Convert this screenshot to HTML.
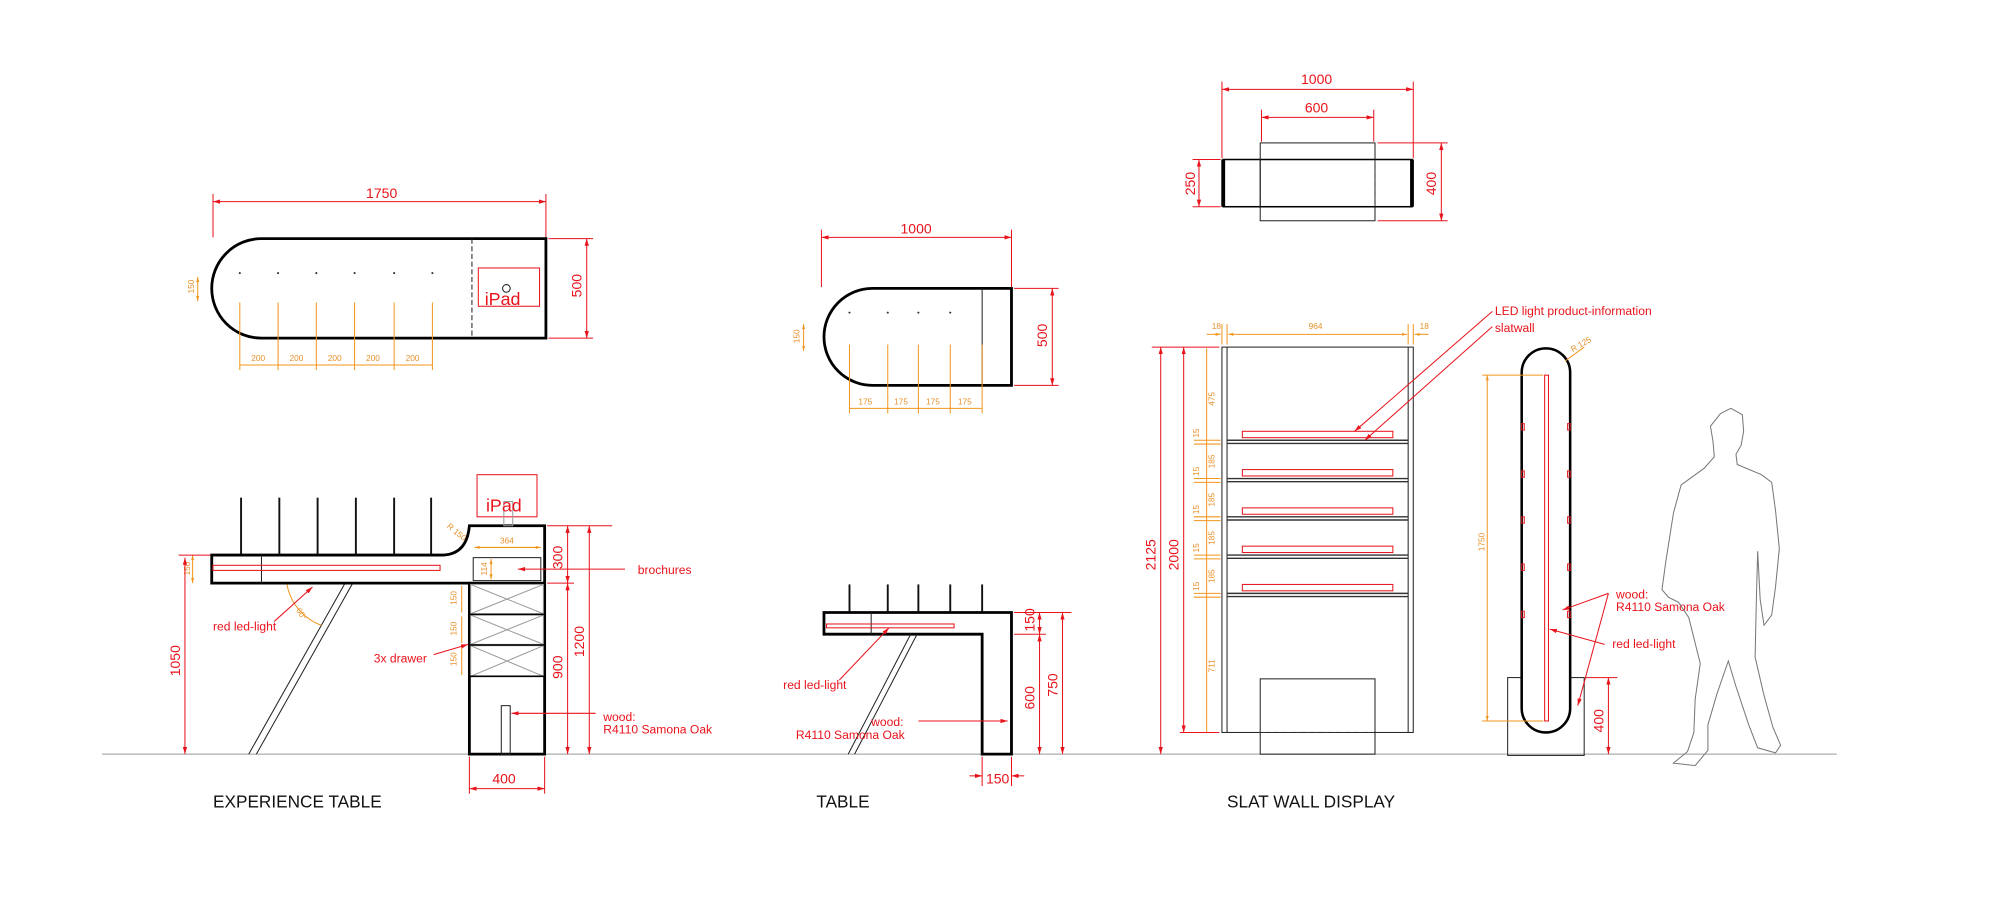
<!DOCTYPE html>
<html><head><meta charset="utf-8"><style>
html,body{margin:0;padding:0;background:#fff;}
svg{display:block;}
text{font-family:"Liberation Sans",Arial,sans-serif;}
.k{stroke:#000;fill:none;stroke-width:2.2}
.t{stroke:#222;fill:none;stroke-width:0.8}
.r{stroke:#e8131b;fill:none;stroke-width:0.8}
.o{stroke:#f0961e;fill:none;stroke-width:0.8}
.rt{fill:#e8131b;font-size:11px}
.ot{fill:#e8902a;font-size:6.5px}
.lt{fill:#e8131b;font-size:9.5px}
.ti{fill:#111;font-size:13.5px}
</style></head><body>
<svg width="2000" height="906" viewBox="0 0 1568 710" preserveAspectRatio="none" xmlns="http://www.w3.org/2000/svg">
<defs>
<marker id="ar" viewBox="0 0 10 10" refX="10" refY="5" markerWidth="7" markerHeight="7" orient="auto-start-reverse"><path d="M0,2 L10,5 L0,8z" fill="#e8131b"/></marker>
<marker id="ao" viewBox="0 0 10 10" refX="10" refY="5" markerWidth="5" markerHeight="5" orient="auto-start-reverse"><path d="M0,2 L10,5 L0,8z" fill="#f0961e"/></marker>
</defs>

<!-- ground -->
<line x1="80" y1="591" x2="1440" y2="591" stroke="#999" stroke-width="0.8"/>

<!-- ===== EXPERIENCE TABLE TOP ===== -->
<line class="r" x1="167" y1="152" x2="167" y2="186"/><line class="r" x1="428" y1="152" x2="428" y2="186"/>
<line class="r" x1="167" y1="158" x2="428" y2="158" marker-start="url(#ar)" marker-end="url(#ar)"/>
<text class="rt" x="287" y="155">1750</text>
<path class="k" d="M205,187 L428,187 L428,265 L205,265 A39,39 0 0 1 205,187 Z"/>
<line class="t" x1="370" y1="187" x2="370" y2="265" stroke-dasharray="4,2"/>
<rect x="375" y="210" width="48" height="30" class="r"/>
<circle cx="397" cy="226" r="3" class="t"/>
<text x="380" y="239" fill="#e8131b" font-size="14">iPad</text>
<line class="r" x1="430" y1="187" x2="465" y2="187"/><line class="r" x1="430" y1="265" x2="465" y2="265"/>
<line class="r" x1="460" y1="187" x2="460" y2="265" marker-start="url(#ar)" marker-end="url(#ar)"/>
<text class="rt" transform="translate(456,233) rotate(-90)">500</text>
<line class="o" x1="155" y1="217" x2="155" y2="236" marker-start="url(#ao)" marker-end="url(#ao)"/>
<text class="ot" transform="translate(152,230) rotate(-90)">150</text>
<g fill="#333">
<circle cx="188" cy="214" r="0.8"/><circle cx="218" cy="214" r="0.8"/><circle cx="248" cy="214" r="0.8"/><circle cx="278" cy="214" r="0.8"/><circle cx="309" cy="214" r="0.8"/><circle cx="339" cy="214" r="0.8"/>
</g>
<g class="o">
<line x1="188" y1="237" x2="188" y2="290"/><line x1="218" y1="237" x2="218" y2="290"/><line x1="248" y1="237" x2="248" y2="290"/><line x1="278" y1="237" x2="278" y2="290"/><line x1="309" y1="237" x2="309" y2="290"/><line x1="339" y1="237" x2="339" y2="290"/>
<line x1="188" y1="286" x2="339" y2="286"/>
</g>
<g class="ot"><text x="197" y="283">200</text><text x="227" y="283">200</text><text x="257" y="283">200</text><text x="287" y="283">200</text><text x="318" y="283">200</text></g>

<!-- ===== EXPERIENCE TABLE SIDE ===== -->
<g stroke="#111" stroke-width="1.5">
<line x1="189" y1="390" x2="189" y2="435"/><line x1="219" y1="390" x2="219" y2="435"/><line x1="249" y1="390" x2="249" y2="435"/><line x1="279" y1="390" x2="279" y2="435"/><line x1="309" y1="390" x2="309" y2="435"/><line x1="338" y1="390" x2="338" y2="435"/>
</g>
<path class="k" d="M166,435 L346,435 Q366,435 368,412 L427,412 L427,591 L368,591 L368,457 L166,457 Z"/>
<line class="k" x1="368" y1="457" x2="427" y2="457" stroke-width="1.6"/>
<line class="t" x1="205" y1="435" x2="205" y2="457"/>
<rect class="r" x="167" y="443" width="178" height="4"/>
<rect class="t" x="371" y="437" width="53" height="18"/>
<g stroke="#999" stroke-width="0.8" fill="none">
<rect x="369" y="458" width="57" height="23"/><line x1="369" y1="458" x2="426" y2="481"/><line x1="426" y1="458" x2="369" y2="481"/>
<rect x="369" y="482" width="57" height="23"/><line x1="369" y1="482" x2="426" y2="505"/><line x1="426" y1="482" x2="369" y2="505"/>
<rect x="369" y="506" width="57" height="24"/><line x1="369" y1="506" x2="426" y2="530"/><line x1="426" y1="506" x2="369" y2="530"/>
</g>
<line x1="368" y1="481.5" x2="427" y2="481.5" stroke="#000" stroke-width="1.2"/>
<line x1="368" y1="505.5" x2="427" y2="505.5" stroke="#000" stroke-width="1.2"/>
<line x1="368" y1="530" x2="427" y2="530" stroke="#000" stroke-width="1.2"/>
<rect class="t" x="393" y="553" width="7" height="38"/>
<line class="t" x1="270" y1="458" x2="195" y2="591"/><line class="t" x1="276" y1="458" x2="201" y2="591"/>
<rect class="r" x="374" y="372" width="47" height="33"/>
<rect x="395" y="393" width="7" height="19" stroke="#999" fill="none" stroke-width="0.8"/>
<text x="381" y="401" fill="#e8131b" font-size="14">iPad</text>
<text class="ot" transform="translate(350,413) rotate(40)">R 150</text>
<line class="o" x1="372" y1="429" x2="424" y2="429" marker-start="url(#ao)" marker-end="url(#ao)"/>
<text class="ot" x="392" y="426">364</text>
<line class="o" x1="385" y1="438" x2="385" y2="454" marker-start="url(#ao)" marker-end="url(#ao)"/>
<text class="ot" transform="translate(382,451) rotate(-90)">114</text>
<line class="o" x1="362" y1="459" x2="362" y2="480"/><text class="ot" transform="translate(358,474) rotate(-90)">150</text>
<line class="o" x1="362" y1="483" x2="362" y2="504"/><text class="ot" transform="translate(358,498) rotate(-90)">150</text>
<line class="o" x1="362" y1="507" x2="362" y2="529"/><text class="ot" transform="translate(358,522) rotate(-90)">150</text>
<line class="o" x1="151" y1="435" x2="151" y2="457" marker-start="url(#ao)" marker-end="url(#ao)"/>
<text class="ot" transform="translate(149,451) rotate(-90)">150</text>
<line class="r" x1="140" y1="435" x2="165" y2="435"/>
<line class="r" x1="145" y1="437" x2="145" y2="591" marker-start="url(#ar)" marker-end="url(#ar)"/>
<text class="rt" transform="translate(141,530) rotate(-90)">1050</text>
<path class="o" d="M225,458 A42,42 0 0 0 252,490"/><text class="ot" transform="translate(232,478) rotate(60)">60°</text>
<g class="r">
<line x1="429" y1="412" x2="480" y2="412"/><line x1="429" y1="457" x2="450" y2="457"/>
<line x1="445" y1="412" x2="445" y2="457" marker-start="url(#ar)" marker-end="url(#ar)"/>
<line x1="445" y1="457" x2="445" y2="591" marker-start="url(#ar)" marker-end="url(#ar)"/>
<line x1="462" y1="412" x2="462" y2="591" marker-start="url(#ar)" marker-end="url(#ar)"/>
<line x1="368" y1="593" x2="368" y2="622"/><line x1="427" y1="593" x2="427" y2="622"/>
<line x1="368" y1="618" x2="427" y2="618" marker-start="url(#ar)" marker-end="url(#ar)"/>
</g>
<text class="rt" transform="translate(441,446) rotate(-90)">300</text>
<text class="rt" transform="translate(441,532) rotate(-90)">900</text>
<text class="rt" transform="translate(458,515) rotate(-90)">1200</text>
<text class="rt" x="386" y="614">400</text>
<line class="r" x1="490" y1="446" x2="406" y2="446" marker-end="url(#ar)"/>
<text class="lt" x="500" y="450">brochures</text>
<line class="r" x1="215" y1="487" x2="245" y2="460" marker-end="url(#ar)"/>
<text class="lt" x="167" y="494">red led-light</text>
<line class="r" x1="340" y1="513" x2="367" y2="505" marker-end="url(#ar)"/>
<text class="lt" x="293" y="519">3x drawer</text>
<line class="r" x1="467" y1="559" x2="401" y2="559" marker-end="url(#ar)"/>
<text class="lt" x="473" y="565">wood:</text>
<text class="lt" x="473" y="575">R4110 Samona Oak</text>
<text class="ti" x="167" y="633">EXPERIENCE TABLE</text>

<!-- ===== TABLE TOP ===== -->
<line class="r" x1="644" y1="180" x2="644" y2="225"/><line class="r" x1="793" y1="180" x2="793" y2="225"/>
<line class="r" x1="644" y1="186" x2="793" y2="186" marker-start="url(#ar)" marker-end="url(#ar)"/>
<text class="rt" x="706" y="183">1000</text>
<path class="k" d="M684,226 L793,226 L793,302 L684,302 A38,38 0 0 1 684,226 Z"/>
<line class="t" x1="770" y1="226" x2="770" y2="302"/>
<g fill="#333"><circle cx="666" cy="245" r="0.8"/><circle cx="696" cy="245" r="0.8"/><circle cx="720" cy="245" r="0.8"/><circle cx="745" cy="245" r="0.8"/></g>
<g class="o"><line x1="666" y1="270" x2="666" y2="324"/><line x1="696" y1="270" x2="696" y2="324"/><line x1="720" y1="270" x2="720" y2="324"/><line x1="745" y1="270" x2="745" y2="324"/><line x1="770" y1="270" x2="770" y2="324"/><line x1="666" y1="320" x2="770" y2="320"/></g>
<g class="ot"><text x="673" y="317">175</text><text x="701" y="317">175</text><text x="726" y="317">175</text><text x="751" y="317">175</text></g>
<line class="o" x1="630" y1="254" x2="630" y2="275" marker-start="url(#ao)" marker-end="url(#ao)"/>
<text class="ot" transform="translate(627,269) rotate(-90)">150</text>
<line class="r" x1="795" y1="226" x2="830" y2="226"/><line class="r" x1="795" y1="302" x2="830" y2="302"/>
<line class="r" x1="825" y1="226" x2="825" y2="302" marker-start="url(#ar)" marker-end="url(#ar)"/>
<text class="rt" transform="translate(821,272) rotate(-90)">500</text>

<!-- ===== TABLE SIDE ===== -->
<g stroke="#111" stroke-width="1.5"><line x1="666" y1="458" x2="666" y2="480"/><line x1="696" y1="458" x2="696" y2="480"/><line x1="720" y1="458" x2="720" y2="480"/><line x1="745" y1="458" x2="745" y2="480"/><line x1="770" y1="458" x2="770" y2="480"/></g>
<path class="k" d="M646,480 L793,480 L793,591 L770,591 L770,497 L646,497 Z"/>
<line class="t" x1="683" y1="480" x2="683" y2="497"/>
<rect class="r" x="648" y="489" width="100" height="3"/>
<line class="t" x1="714" y1="497" x2="665" y2="591"/><line class="t" x1="719" y1="497" x2="670" y2="591"/>
<g class="r">
<line x1="795" y1="480" x2="840" y2="480"/><line x1="795" y1="497" x2="820" y2="497"/>
<line x1="815" y1="480" x2="815" y2="497" marker-start="url(#ar)" marker-end="url(#ar)"/>
<line x1="815" y1="497" x2="815" y2="591" marker-start="url(#ar)" marker-end="url(#ar)"/>
<line x1="833" y1="480" x2="833" y2="591" marker-start="url(#ar)" marker-end="url(#ar)"/>
<line x1="770" y1="593" x2="770" y2="616"/><line x1="793" y1="593" x2="793" y2="616"/>
<line x1="760" y1="608" x2="770" y2="608" marker-end="url(#ar)"/><line x1="803" y1="608" x2="793" y2="608" marker-end="url(#ar)"/>
</g>
<text class="rt" transform="translate(811,495) rotate(-90)">150</text>
<text class="rt" transform="translate(811,556) rotate(-90)">600</text>
<text class="rt" transform="translate(829,546) rotate(-90)">750</text>
<text class="rt" x="773" y="614">150</text>
<line class="r" x1="658" y1="533" x2="697" y2="492" marker-end="url(#ar)"/>
<text class="lt" x="614" y="540">red led-light</text>
<line class="r" x1="720" y1="565" x2="790" y2="565" marker-end="url(#ar)" transform="translate(0,0)"/>
<text class="lt" x="683" y="569">wood:</text>
<text class="lt" x="624" y="579">R4110 Samona Oak</text>
<text class="ti" x="640" y="633">TABLE</text>

<!-- ===== SLAT WALL TOP ===== -->
<g class="r">
<line x1="958" y1="64" x2="958" y2="124"/><line x1="1108" y1="64" x2="1108" y2="124"/>
<line x1="958" y1="70" x2="1108" y2="70" marker-start="url(#ar)" marker-end="url(#ar)"/>
<line x1="989" y1="86" x2="989" y2="111"/><line x1="1077" y1="86" x2="1077" y2="111"/>
<line x1="989" y1="92" x2="1077" y2="92" marker-start="url(#ar)" marker-end="url(#ar)"/>
<line x1="935" y1="125" x2="957" y2="125"/><line x1="935" y1="162" x2="957" y2="162"/>
<line x1="940" y1="125" x2="940" y2="162" marker-start="url(#ar)" marker-end="url(#ar)"/>
<line x1="1080" y1="112" x2="1135" y2="112"/><line x1="1080" y1="173" x2="1135" y2="173"/>
<line x1="1130" y1="112" x2="1130" y2="173" marker-start="url(#ar)" marker-end="url(#ar)"/>
</g>
<text class="rt" x="1020" y="66">1000</text>
<text class="rt" x="1023" y="88">600</text>
<text class="rt" transform="translate(937,153) rotate(-90)">250</text>
<text class="rt" transform="translate(1126,153) rotate(-90)">400</text>
<rect class="t" x="988" y="112" width="90" height="61"/>
<rect x="959" y="125" width="148" height="37" fill="none" stroke="#000" stroke-width="1.2"/>
<line x1="959" y1="125" x2="959" y2="162" stroke="#000" stroke-width="3"/>
<line x1="1107" y1="125" x2="1107" y2="162" stroke="#000" stroke-width="3"/>
<line class="t" x1="988" y1="125" x2="988" y2="162" stroke="#fff" stroke-width="1"/>
<line x1="988" y1="125" x2="988" y2="162" stroke="#333" stroke-width="0.8" stroke-dasharray="4,3"/>
<line x1="1078" y1="125" x2="1078" y2="162" stroke="#333" stroke-width="0.8" stroke-dasharray="4,3"/>

<!-- ===== SLAT WALL FRONT ===== -->
<rect class="t" x="958" y="272" width="150" height="302" stroke-width="1.1"/>
<line class="t" x1="962" y1="272" x2="962" y2="574"/><line class="t" x1="1104" y1="272" x2="1104" y2="574"/>
<g stroke="#333" stroke-width="1.1">
<line x1="962" y1="345" x2="1104" y2="345"/><line x1="962" y1="347.5" x2="1104" y2="347.5"/>
<line x1="962" y1="375" x2="1104" y2="375"/><line x1="962" y1="377.5" x2="1104" y2="377.5"/>
<line x1="962" y1="405" x2="1104" y2="405"/><line x1="962" y1="407.5" x2="1104" y2="407.5"/>
<line x1="962" y1="435" x2="1104" y2="435"/><line x1="962" y1="437.5" x2="1104" y2="437.5"/>
<line x1="962" y1="465" x2="1104" y2="465"/><line x1="962" y1="467.5" x2="1104" y2="467.5"/>
</g>
<g class="r"><rect x="974" y="338" width="118" height="5"/><rect x="974" y="368" width="118" height="5"/><rect x="974" y="398" width="118" height="5"/><rect x="974" y="428" width="118" height="5"/><rect x="974" y="458" width="118" height="5"/></g>
<rect class="t" x="988" y="532" width="90" height="59"/>
<line x1="988" y1="574" x2="1078" y2="574" stroke="#333" stroke-width="0.8" stroke-dasharray="4,3"/>
<g class="o">
<line x1="958" y1="254" x2="958" y2="270"/><line x1="962" y1="254" x2="962" y2="270"/><line x1="1104" y1="254" x2="1104" y2="270"/><line x1="1108" y1="254" x2="1108" y2="270"/>
<line x1="963" y1="262" x2="1103" y2="262" marker-start="url(#ao)" marker-end="url(#ao)"/>
<line x1="946" y1="262" x2="957" y2="262" marker-end="url(#ao)"/><line x1="1120" y1="262" x2="1109" y2="262" marker-end="url(#ao)"/>
<line x1="946" y1="273" x2="946" y2="574"/>
<line x1="936" y1="345" x2="957" y2="345"/><line x1="936" y1="348" x2="957" y2="348"/>
<line x1="936" y1="375" x2="957" y2="375"/><line x1="936" y1="378" x2="957" y2="378"/>
<line x1="936" y1="405" x2="957" y2="405"/><line x1="936" y1="408" x2="957" y2="408"/>
<line x1="936" y1="435" x2="957" y2="435"/><line x1="936" y1="438" x2="957" y2="438"/>
<line x1="936" y1="465" x2="957" y2="465"/><line x1="936" y1="468" x2="957" y2="468"/>
</g>
<g class="ot">
<text x="950" y="258">18</text><text x="1026" y="258">964</text><text x="1113" y="258">18</text>
<text transform="translate(952,318) rotate(-90)">475</text>
<text transform="translate(952,367) rotate(-90)">185</text><text transform="translate(952,397) rotate(-90)">185</text>
<text transform="translate(952,427) rotate(-90)">185</text><text transform="translate(952,457) rotate(-90)">185</text>
<text transform="translate(940,343) rotate(-90)">15</text><text transform="translate(940,373) rotate(-90)">15</text>
<text transform="translate(940,403) rotate(-90)">15</text><text transform="translate(940,433) rotate(-90)">15</text><text transform="translate(940,463) rotate(-90)">15</text>
<text transform="translate(952,527) rotate(-90)">711</text>
</g>
<g class="r">
<line x1="903" y1="272" x2="956" y2="272"/><line x1="925" y1="574" x2="956" y2="574"/>
<line x1="910" y1="272" x2="910" y2="591" marker-start="url(#ar)" marker-end="url(#ar)"/>
<line x1="928" y1="272" x2="928" y2="574" marker-start="url(#ar)" marker-end="url(#ar)"/>
</g>
<text class="rt" transform="translate(906,447) rotate(-90)">2125</text>
<text class="rt" transform="translate(924,447) rotate(-90)">2000</text>
<line class="r" x1="1170" y1="244" x2="1062" y2="338" marker-end="url(#ar)"/>
<line class="r" x1="1170" y1="256" x2="1070" y2="345" marker-end="url(#ar)"/>
<text class="lt" x="1172" y="247">LED light product-information</text>
<text class="lt" x="1172" y="260">slatwall</text>
<text class="ti" x="962" y="633">SLAT WALL DISPLAY</text>

<!-- ===== SIDE PANEL ===== -->
<rect class="t" x="1182" y="531" width="60" height="61"/>
<rect x="1193" y="273" width="38" height="301" rx="19" ry="19" fill="#fff" stroke="#000" stroke-width="2"/>
<rect class="r" x="1211" y="294" width="3" height="271"/>
<g class="r">
<rect x="1193" y="332" width="2" height="5"/><rect x="1193" y="369" width="2" height="5"/><rect x="1193" y="405" width="2" height="5"/><rect x="1193" y="442" width="2" height="5"/><rect x="1193" y="479" width="2" height="5"/>
<rect x="1229" y="332" width="2" height="5"/><rect x="1229" y="369" width="2" height="5"/><rect x="1229" y="405" width="2" height="5"/><rect x="1229" y="442" width="2" height="5"/><rect x="1229" y="479" width="2" height="5"/>
</g>
<text class="ot" transform="translate(1233,276) rotate(-30)">R 125</text>
<line class="o" x1="1227" y1="283" x2="1242" y2="272"/>
<g class="o"><line x1="1162" y1="294" x2="1210" y2="294"/><line x1="1162" y1="565" x2="1210" y2="565"/>
<line x1="1166" y1="294" x2="1166" y2="565" marker-start="url(#ao)" marker-end="url(#ao)"/></g>
<text class="ot" transform="translate(1164,432) rotate(-90)">1750</text>
<g class="r">
<line x1="1243" y1="531" x2="1268" y2="531"/>
<line x1="1261" y1="531" x2="1261" y2="591" marker-start="url(#ar)" marker-end="url(#ar)"/>
<line x1="1261" y1="465" x2="1225" y2="478" marker-end="url(#ar)"/>
<line x1="1261" y1="465" x2="1237" y2="553" marker-end="url(#ar)"/>
<line x1="1258" y1="505" x2="1215" y2="493" marker-end="url(#ar)"/>
</g>
<text class="rt" transform="translate(1257,574) rotate(-90)">400</text>
<text class="lt" x="1267" y="469">wood:</text>
<text class="lt" x="1267" y="479">R4110 Samona Oak</text>
<text class="lt" x="1264" y="508">red led-light</text>

<!-- person -->
<path d="M1349,324 L1357,320 L1366,325 L1367,338 L1365,349 L1361,356 L1362,364 L1381,372 L1389,378 L1392,400 L1395,430 L1392,460 L1389,482 L1383,490 L1380,470 L1378,432 L1377,470 L1376,515 L1383,545 L1390,570 L1396,584 L1392,590 L1378,586 L1371,568 L1361,538 L1355,518 L1346,544 L1339,568 L1339,588 L1329,600 L1312,598 L1323,589 L1328,574 L1329,548 L1333,520 L1324,484 L1316,472 L1308,468 L1303,462 L1306,440 L1312,402 L1318,380 L1336,367 L1344,358 L1343,346 L1341,334 Z" fill="none" stroke="#777" stroke-width="0.8"/>
</svg>
</body></html>
